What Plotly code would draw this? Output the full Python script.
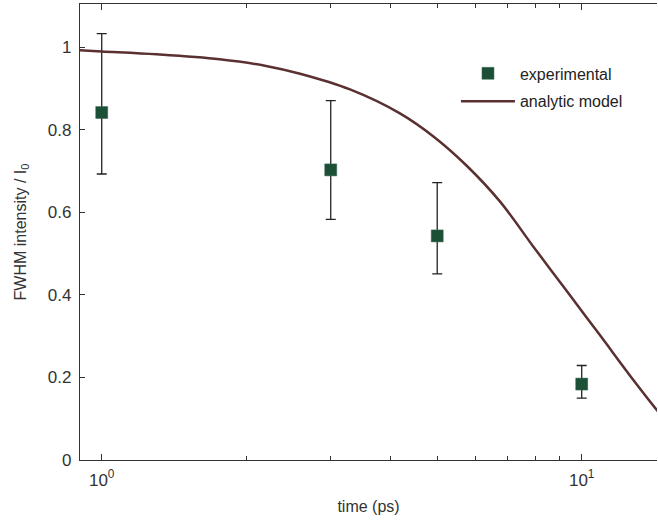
import math
import plotly.graph_objects as go

# Experimental data
exp_t = [1, 3, 5, 10]
exp_y = [0.842, 0.703, 0.543, 0.184]
exp_err_plus = [0.191, 0.168, 0.129, 0.045]
exp_err_minus = [0.149, 0.120, 0.092, 0.034]

# Analytic model
model_t = [0.9, 1.0, 1.3, 1.76, 2.2, 2.59, 3.29, 4.18, 4.91, 5.76, 6.76, 7.93, 9.30, 10.92, 12.81, 14.4]
model_y = [0.993, 0.990, 0.983, 0.971, 0.955, 0.936, 0.898, 0.840, 0.784, 0.713, 0.626, 0.517, 0.410, 0.302, 0.194, 0.118]

x_tickvals = [1, 10]
x_ticktext = ["10<sup>0</sup>", "10<sup>1</sup>"]
x_minor = [2, 3, 4, 5, 6, 7, 8, 9]
y_tickvals = [0, 0.2, 0.4, 0.6, 0.8, 1]
y_ticktext = ["0", "0.2", "0.4", "0.6", "0.8", "1"]

FONT = "Liberation Sans, Arial, sans-serif"
AX = "#333333"

fig = go.Figure()
fig.add_trace(go.Scatter(
    x=exp_t, y=exp_y, mode="markers", name="experimental",
    legendgroup="a",
    marker=dict(symbol="square", size=12, color="#1b4f36",
                line=dict(width=0.5, color="#3d6b55")),
    error_y=dict(type="data", symmetric=False, array=exp_err_plus,
                 arrayminus=exp_err_minus, color="#222222", thickness=1.3, width=5),
))
fig.add_trace(go.Scatter(
    x=model_t, y=model_y, mode="lines", name="analytic model",
    legendgroup="b",
    line=dict(color="#5a3030", width=2.5, shape="spline", smoothing=1.0),
))

fig.update_layout(
    width=658, height=520,
    margin=dict(l=80, r=1, t=4, b=60),
    paper_bgcolor="white", plot_bgcolor="white",
    font=dict(family=FONT, size=17, color=AX),
    showlegend=True,
    legend=dict(x=0.6516, y=0.885, xanchor="left", yanchor="top",
                bgcolor="rgba(0,0,0,0)", font=dict(size=16, color="#222"),
                itemwidth=54,
                traceorder="grouped", tracegroupgap=4),
    xaxis=dict(
        type="log", range=[math.log10(0.901), math.log10(14.35)],
        automargin=False,
        tickvals=x_tickvals, ticktext=x_ticktext,
        ticks="inside", ticklen=6, tickwidth=1.3, tickcolor=AX,
        showline=True, linecolor=AX, linewidth=1.3, mirror="ticks",
        showgrid=False, zeroline=False,
        minor=dict(tickvals=x_minor, ticks="inside", ticklen=4, tickwidth=1.3,
                   tickcolor=AX, showgrid=False),
        title=dict(text="time (ps)", font=dict(size=16), standoff=12),
        ticklabelstandoff=4,
        tickfont=dict(size=17),
    ),
    yaxis=dict(
        range=[0, 1.105],
        automargin=False,
        tickvals=y_tickvals, ticktext=y_ticktext,
        ticks="inside", ticklen=5, tickwidth=1.3, tickcolor=AX,
        showline=True, linecolor=AX, linewidth=1.3,
        showgrid=False, zeroline=False,
        title=dict(text="FWHM intensity / I<sub>0</sub>", font=dict(size=16), standoff=17),
        ticklabelstandoff=4,
        tickfont=dict(size=17),
    ),
)

fig.write_html("out.html", config={"displayModeBar": False},
               post_script="document.body.style.margin='0';")
